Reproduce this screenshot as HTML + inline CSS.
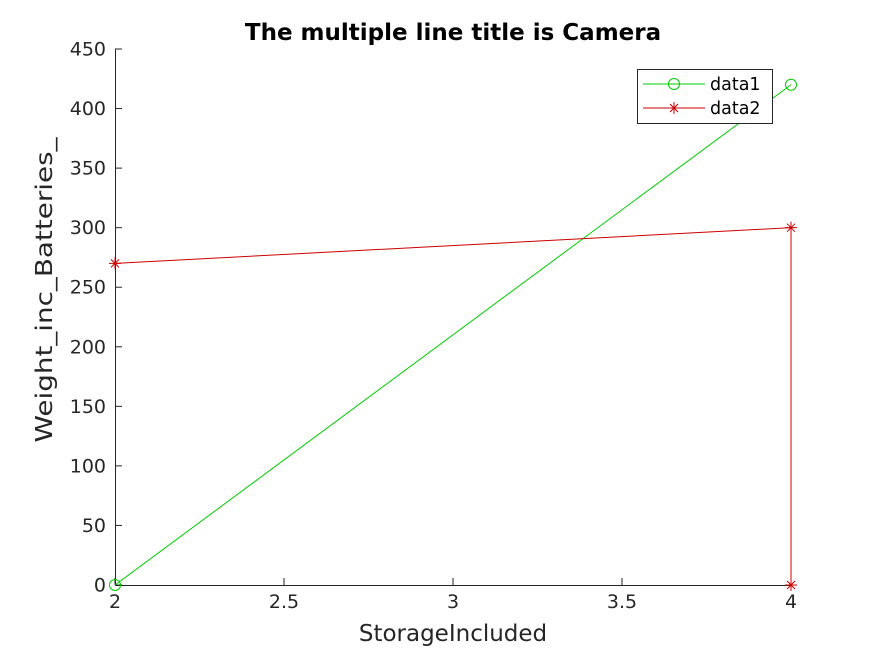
<!DOCTYPE html>
<html><head><meta charset="utf-8"><style>
body{margin:0;background:#fff;}
svg{display:block;font-family:"DejaVu Sans","Liberation Sans",sans-serif;}
</style></head><body>
<svg id="chart" width="875" height="656" viewBox="0 0 875 656">
<rect width="875" height="656" fill="#fff"/>
<text x="453" y="40" text-anchor="middle" font-size="23" font-weight="bold" fill="#000">The multiple line title is Camera</text>
<g id="axes"></g>
<g id="series"></g>
<text x="453" y="641" text-anchor="middle" font-size="23" fill="#262626">StorageIncluded</text>
<text transform="translate(52,290) rotate(-90)" text-anchor="middle" font-size="23" textLength="305" lengthAdjust="spacingAndGlyphs" fill="#262626">Weight_inc_Batteries_</text>
<g>
<rect x="637.5" y="69.5" width="135" height="54" fill="#fff" stroke="#262626" stroke-width="1"/>
<line x1="643" y1="84" x2="705" y2="84" stroke="#00cc00"/>
<circle cx="674" cy="84" r="5.5" fill="none" stroke="#00cc00"/>
<text x="710" y="90" font-size="17.5" fill="#000">data1</text>
<line x1="643" y1="108" x2="705" y2="108" stroke="#cc0000"/>
<path d="M668 108h12M674 102v12M670 104l8 8M678 104l-8 8" stroke="#cc0000"/>
<text x="710" y="114" font-size="17.5" fill="#000">data2</text>
</g>
</svg>
<script>
const xTicks=[2,2.5,3,3.5,4];
const xTickLabels=["2","2.5","3","3.5","4"];
const yTicks=[0,50,100,150,200,250,300,350,400,450];
const data1X=[2,4];
const data1Y=[0,420];
const data2X=[2,4,4];
const data2Y=[270,300,0];
const X0=115,X1=791,Y0=585,Y1=49;
const sx=v=>X0+(v-2)/(4-2)*(X1-X0);
const sy=v=>Y0-(v-0)/(450-0)*(Y0-Y1);
const NS="http://www.w3.org/2000/svg";
const ax=document.getElementById('axes'),se=document.getElementById('series');
function mk(tag,attrs,parent){const e=document.createElementNS(NS,tag);for(const k in attrs)e.setAttribute(k,attrs[k]);parent.appendChild(e);return e;}
let l=mk('line',{x1:X0,y1:Y0+0.5,x2:X1,y2:Y0+0.5,stroke:'#262626'},ax);


l=mk('line',{x1:X0+0.5,y1:Y1,x2:X0+0.5,y2:Y0,stroke:'#262626'},ax);


xTicks.forEach((v,i)=>{const x=sx(v);
mk('line',{x1:x,y1:Y0,x2:x,y2:Y0-7,stroke:'#262626'},ax);
const t=mk('text',{x:x,y:Y0+23,'text-anchor':'middle','font-size':'19',fill:'#262626'},ax);t.textContent=xTickLabels[i];

});
yTicks.forEach(v=>{const y=sy(v);
mk('line',{x1:X0,y1:y,x2:X0+7,y2:y,stroke:'#262626'},ax);
const t=mk('text',{x:X0-9,y:y+6.5,'text-anchor':'end','font-size':'19',fill:'#262626'},ax);t.textContent=v;

});
const p1=mk('polyline',{points:data1X.map((x,i)=>sx(x)+','+sy(data1Y[i])).join(' '),fill:'none',stroke:'#00cc00'},se);


data1X.forEach((x,i)=>{const c=mk('circle',{cx:sx(x),cy:sy(data1Y[i]),r:5.5,fill:'none',stroke:'#00cc00'},se);

});
const p2=mk('polyline',{points:data2X.map((x,i)=>sx(x)+','+sy(data2Y[i])).join(' '),fill:'none',stroke:'#cc0000'},se);


data2X.forEach((x,i)=>{const cx=sx(x),cy=sy(data2Y[i]);
const m=mk('path',{d:`M${cx-6} ${cy}h12M${cx} ${cy-6}v12M${cx-4} ${cy-4}l8 8M${cx+4} ${cy-4}l-8 8`,stroke:'#cc0000'},se);

});
</script>
</body></html>
